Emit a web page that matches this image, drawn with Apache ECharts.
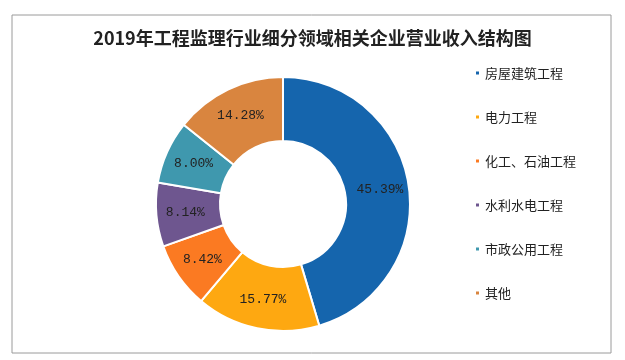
<!DOCTYPE html>
<html><head><meta charset="utf-8">
<script src="https://cdn.jsdelivr.net/npm/echarts@6/dist/echarts.min.js"></script>
<style>html,body{margin:0;padding:0;background:#fff}#c{width:625px;height:360px}</style>
</head><body><div id="c"></div>
<script>
const categories = ['房屋建筑工程','电力工程','化工、石油工程','水利水电工程','市政公用工程','其他'];
const values = [45.39, 15.77, 8.42, 8.14, 8.00, 14.28];
const colors = ['#1565ad','#fea811','#fb7a22','#6e568f','#3f98ae','#d9853f'];
const titleText = '2019年工程监理行业细分领域相关企业营业收入结构图';

const chart = echarts.init(document.getElementById('c'), null, {renderer:'canvas'});
chart.setOption({
  animation:false,
  backgroundColor:'#fff',
  color: colors,
  title:{text:titleText, left:'center', top:24,
    textStyle:{fontFamily:'Noto Sans CJK SC', fontWeight:'bold', fontSize:18, color:'#222'}},
  graphic:[{type:'rect', shape:{x:12, y:15, width:599, height:338},
    style:{fill:'none', stroke:'#9a9a9a', lineWidth:1}, silent:true}],
  legend:{orient:'vertical', left:469, top:60, icon:'rect', itemWidth:5, itemHeight:5,
    itemGap:28, data:categories,
    textStyle:{fontFamily:'Noto Sans CJK SC', fontSize:13, color:'#222', lineHeight:16}},
  series:[{type:'pie', center:[283,204], radius:[63,127], startAngle:90, clockwise:true,
    avoidLabelOverlap:false,
    itemStyle:{borderColor:'#fff', borderWidth:2},
    label:{show:true, position:'inside', formatter:p=>p.value.toFixed(2)+'%',
      fontFamily:'Liberation Mono', fontSize:13, color:'#222'},
    labelLine:{show:false},
    data: categories.map((n,i)=>({name:n, value:values[i]}))
  }]
});
</script></body></html>
